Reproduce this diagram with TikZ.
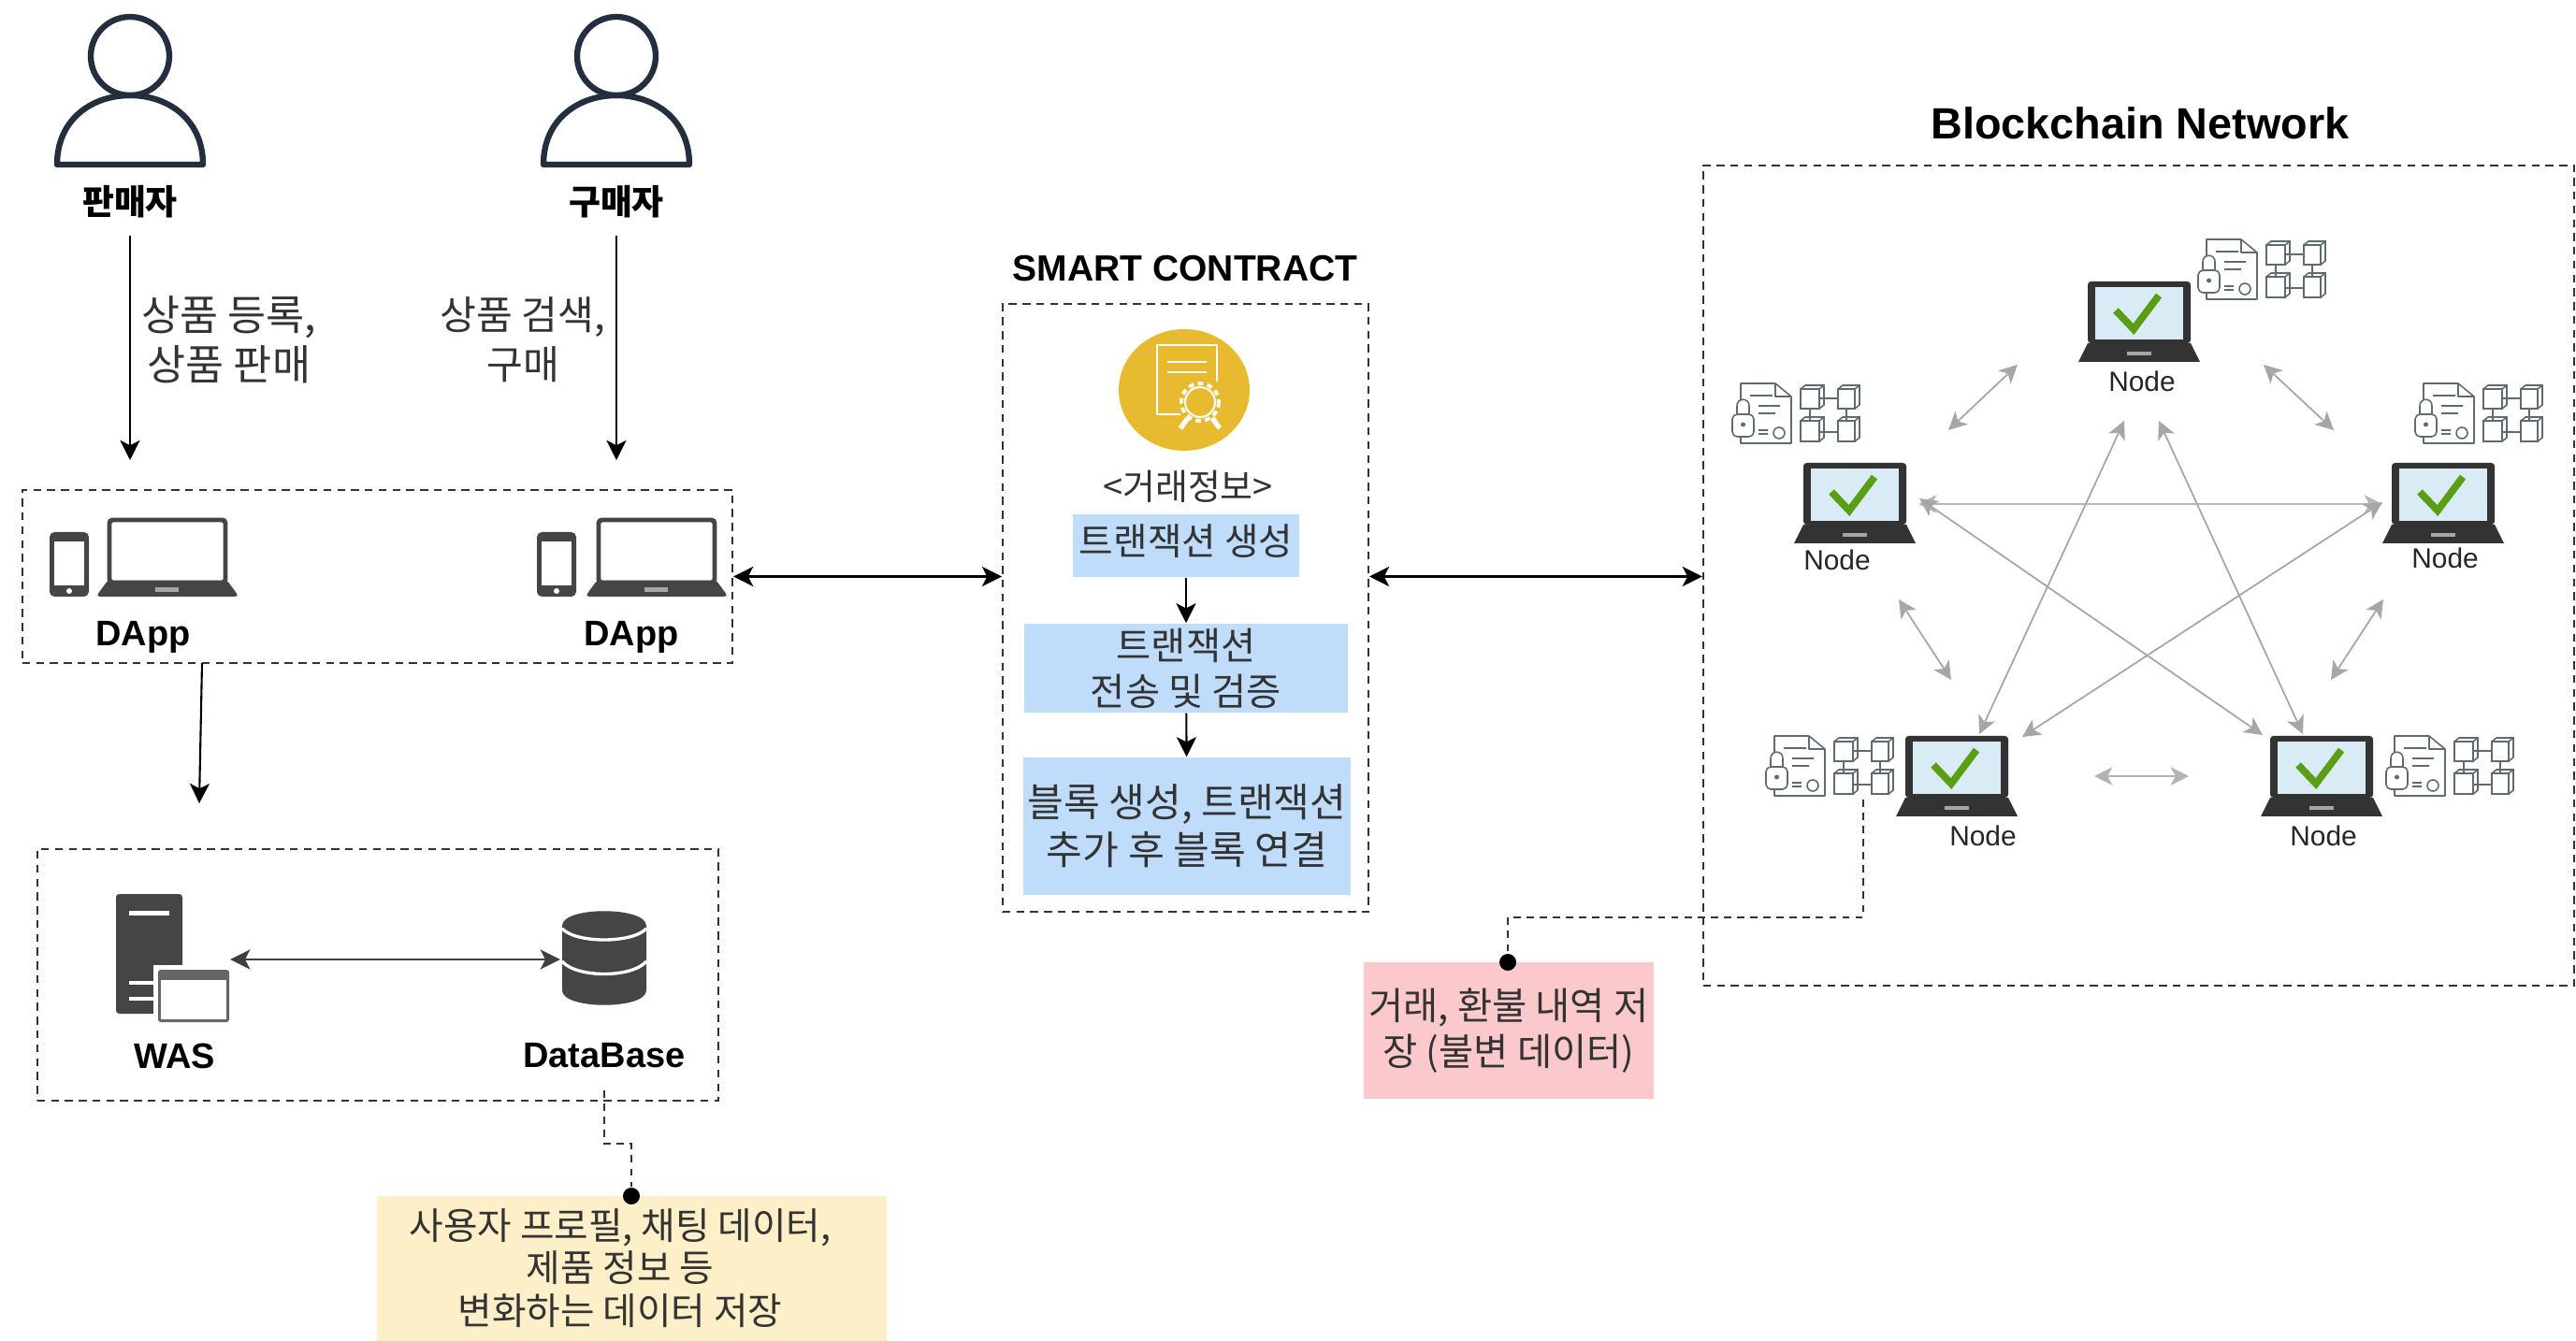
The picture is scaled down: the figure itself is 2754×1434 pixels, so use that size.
\documentclass[tikz,border=0pt]{standalone}
\usepackage{fontspec}
\setmainfont{Liberation Sans}
\newfontfamily\krfont{Noto Sans CJK KR}
\usetikzlibrary{arrows.meta}
\definecolor{inkdark}{HTML}{232F3E}
\definecolor{icondark}{HTML}{454545}
\definecolor{pcdark}{HTML}{333333}
\definecolor{screenblue}{HTML}{D9ECF5}
\definecolor{checkgreen}{HTML}{5A9E14}
\definecolor{linegray}{HTML}{A6A6A6}
\definecolor{ledgergray}{HTML}{5E6B73}
\definecolor{coingold}{HTML}{E8BA2F}
\definecolor{stepblue}{HTML}{BFDDFB}
\definecolor{noteyellow}{HTML}{FDF0C8}
\definecolor{notered}{HTML}{FBC9CC}

\tikzset{
  usericon/.pic={
    \draw[inkdark, line width=1.8pt] (0,3) circle (42);
    \draw[inkdark, line width=1.8pt, line join=round] (-78,119) -- (78,119)
      .. controls (78,70) and (40,45) .. (0,45)
      .. controls (-40,45) and (-78,70) .. (-78,119) -- cycle;
  },
  phoneicon/.pic={
    \fill[icondark, rounded corners=1.5pt] (0,0) rectangle (42,69);
    \fill[white] (5,10) rectangle (37,57);
    \fill[white] (21,63) circle (3);
  },
  dappicon/.pic={
    \draw[icondark, line width=1.4pt, rounded corners=1pt] (0,0) rectangle (124,67);
    \fill[icondark, rounded corners=.5pt] (-2,65) -- (126,65) -- (137,80) -- (136,82) -- (-12,82) -- (-13,80) -- cycle;
    \fill[linegray] (49,72) rectangle (74,77);
  },
  dbicon/.pic={
    \fill[icondark] (-45,16) .. controls (-45,-5) and (45,-5) .. (45,16) -- (45,85)
      .. controls (45,106) and (-45,106) .. (-45,85) -- cycle;
    \draw[white, line width=.95pt] (-45,19) .. controls (-30,35) and (30,35) .. (45,19)
      (-45,54) .. controls (-30,72) and (30,72) .. (45,54);
  },
  laptopicon/.pic={
    \fill[pcdark, rounded corners=1pt] (-55,0) rectangle (55,66);
    \fill[pcdark] (-55,66) -- (55,66) -- (65,86) -- (-65,86) -- cycle;
    \fill[screenblue] (-47,6) rectangle (47,62);
    \fill[linegray] (-13,75) rectangle (13,79);
    \draw[checkgreen, line width=2.2pt] (-25,31) -- (-6,51) -- (21,15);
  },
  ledgericon/.pic={
    \draw[ledgergray, line width=.45pt, line join=round]
      (9,18) -- (9,0) -- (46,0) -- (63,14) -- (63,64) -- (9,64) -- (9,57)
      (46,0) -- (46,14) -- (63,14)
      (19,13) -- (43,13) (28,24) -- (51,24) (28,32) -- (46,32)
      (28,50) -- (38,50) (28,54) -- (38,54);
    \draw[ledgergray, line width=.45pt] (50,53) circle (6);
    \draw[ledgergray, line width=.45pt, rounded corners=1.5pt, fill=white] (0,33) rectangle (23,57);
    \draw[ledgergray, line width=.45pt] (5,33) -- (5,24) .. controls (5,15) and (18,15) .. (18,24) -- (18,33);
    \fill[ledgergray] (11.5,44) circle (2.5);
    \draw[ledgergray, line width=.45pt]
      (73,6) rectangle (93,27) (73,6) -- (78,2) -- (98,2) -- (98,23) -- (93,27) (93,6) -- (98,2)
      (113,6) rectangle (131,27) (113,6) -- (118,2) -- (136,2) -- (136,23) -- (131,27) (131,6) -- (136,2)
      (73,40) rectangle (93,62) (73,40) -- (78,36) -- (98,36) -- (98,58) -- (93,62) (93,40) -- (98,36)
      (113,40) rectangle (131,62) (113,40) -- (118,36) -- (136,36) -- (136,58) -- (131,62) (131,40) -- (136,36)
      (93,16) -- (113,16) (93,52) -- (113,52) (83,27) -- (83,40) (122,27) -- (122,40);
  }
}

\begin{document}
\begin{tikzpicture}[> = {Stealth[length=6pt, width=6pt, inset=1.5pt]}, x = 0.01cm, y = -0.01cm]
\tikzstyle{every node}=[inner sep = 0pt]
\tikzstyle{boldtext}=[font = \fontsize{10.8pt}{13pt}\selectfont\bfseries]
\tikzstyle{kortext}=[font = \fontsize{11.5pt}{14pt}\selectfont\krfont, align = center, text = black!80]
\tikzstyle{korbold}=[font = \fontsize{10.5pt}{13pt}\selectfont\krfont\bfseries]
\tikzstyle{nodetext}=[font = \fontsize{8.5pt}{10pt}\selectfont, text = black!85]
\tikzstyle{groupbox}=[draw = black!80, line width = .5pt, dash pattern = on 2.4pt off 1.8pt]
\tikzstyle{fillbox}=[rectangle, minimum width = 1cm]
\tikzstyle{dotmark}=[circle, fill = black, minimum size = .18cm]
\tikzstyle{mainedge}=[black, line width = .6pt]
\tikzstyle{graylink}=[linegray, line width = .5pt, > = {Stealth[length=5.5pt, width=5.5pt, inset=1.5pt]}]
\tikzstyle{notelink}=[black!80, line width = .5pt, dash pattern = on 2.2pt off 1.8pt]

\useasboundingbox (0,0) rectangle (2754,1434);
\fill[white] (0,0) rectangle (2754,1434);

% users
\pic at (139,57) {usericon};
\pic at (659,57) {usericon};
\node[korbold] (Seller) at (139,216) {판매자};
\node[korbold] (Buyer) at (659,216) {구매자};
\coordinate (SellerIn) at (139,492);
\coordinate (BuyerIn) at (659,492);
\node[kortext, font = \fontsize{12.7pt}{15pt}\selectfont\krfont] (SellerText) at (245,363) {상품 등록,\\상품 판매};
\node[kortext, font = \fontsize{12pt}{15pt}\selectfont\krfont] (BuyerText) at (559,363) {상품 검색,\\구매};

% dapp group
\node[groupbox, minimum width = 7.59cm, minimum height = 1.85cm] (DApps) at (403.5,616.5) {};
\pic at (53,569) {phoneicon};
\pic at (117,556) {dappicon};
\pic at (574,569) {phoneicon};
\pic at (640,556) {dappicon};
\node[boldtext] (DAppA) at (153,681) {DApp};
\node[boldtext] (DAppB) at (675,681) {DApp};
\coordinate (DAppOut) at (216,709);
\coordinate (ServerIn) at (213,859);

% server group
\node[groupbox, minimum width = 7.28cm, minimum height = 2.69cm] (Servers) at (404,1042.5) {};
\fill[icondark, rounded corners=1pt] (124,956) rectangle (195,1084);
\fill[white] (138,974) rectangle (181,979);
\fill[white] (138,1049) rectangle (169,1053);
\fill[white] (138,1066) rectangle (169,1070);
\draw[white, line width=1.2pt, fill=white] (166,1034) rectangle (248,1096);
\fill[gray!80!black, rounded corners=.8pt] (169,1037) rectangle (245,1093);
\fill[white] (172,1048) rectangle (242,1090);
\node[minimum size = .01cm] (ServerIcon) at (245,1026) {};
\pic at (646,974) {dbicon};
\node[minimum size = .01cm] (DBIcon) at (600,1026) {};
\node[boldtext] (WAS) at (187,1129) {WAS};
\node[boldtext] (DB) at (646,1129) {DataBase};

% db note
\coordinate (DBOut) at (646,1166);
\coordinate (DBBend) at (646,1223);
\node[fillbox, fill = noteyellow, minimum width = 5.45cm, minimum height = 1.55cm] (DBNote) at (675.5,1356.5) {};
\node[kortext, font = \fontsize{11.3pt}{13pt}\selectfont\krfont] (DBNoteText) at (663,1356) {사용자 프로필, 채팅 데이터,\\제품 정보 등\\변화하는 데이터 저장};
\node[dotmark] (DBDot) at (675,1279) {};

% smart contract
\node[boldtext, font = \fontsize{11.1pt}{13pt}\selectfont\bfseries] (SCTitle) at (1267,287) {SMART CONTRACT};
\node[groupbox, minimum width = 3.91cm, minimum height = 6.5cm] (Contract) at (1267.5,650) {};
\fill[coingold] (1266,417) ellipse (70 and 65);
\draw[white, line width=.6pt, line join=round] (1301,408) -- (1301,369) -- (1237,369) -- (1237,443) -- (1262,443);
\draw[white, line width=.7pt] (1248,387) -- (1290,387) (1248,398) -- (1290,398);
\draw[white, line width=.6pt] (1283,430) circle (16);
\draw[white, line width=1.1pt, dash pattern=on 1.6pt off 1.3pt] (1283,430) circle (20);
\draw[white, line width=1.5pt] (1270,447) -- (1262,458) (1296,447) -- (1304,458);
\node[kortext, font = \fontsize{10.8pt}{14pt}\selectfont\krfont] (TxInfo) at (1270,520) {<거래정보>};
\node[fillbox, fill = stepblue, minimum width = 2.42cm, minimum height = .67cm] (StepA) at (1268,583.5) {};
\node[kortext, font = \fontsize{11.3pt}{14pt}\selectfont\krfont] (StepAText) at (1268,579) {트랜잭션 생성};
\node[fillbox, fill = stepblue, kortext, minimum width = 3.46cm, minimum height = .95cm] (StepB) at (1268,714.5) {트랜잭션\\전송 및 검증};
\node[fillbox, fill = stepblue, kortext, font = \fontsize{12pt}{14.4pt}\selectfont\krfont, minimum width = 3.5cm, minimum height = 1.47cm] (StepC) at (1269,883.5) {블록 생성, 트랜잭션\\추가 후 블록 연결};

% chain note
\coordinate (ChainOut) at (1992,855);
\coordinate (ChainBend) at (1992,981);
\node[fillbox, fill = notered, kortext, minimum width = 3.1cm, minimum height = 1.46cm] (ChainNote) at (1613,1102) {거래, 환불 내역 저\\장 (불변 데이터)};
\node[dotmark] (ChainDot) at (1612,1029) {};

% blockchain network
\node[boldtext, font = \fontsize{13.3pt}{16pt}\selectfont\bfseries] (ChainTitle) at (2288,132) {Blockchain Network};
\node[groupbox, minimum width = 9.31cm, minimum height = 8.77cm] (Chain) at (2286.5,615.5) {};
\pic at (2287,301) {laptopicon};
\pic at (1983,495) {laptopicon};
\pic at (2612,495) {laptopicon};
\pic at (2092,787) {laptopicon};
\pic at (2482,787) {laptopicon};
\pic at (2350,256) {ledgericon};
\pic at (1852,410) {ledgericon};
\pic at (2582,410) {ledgericon};
\pic at (1888,787) {ledgericon};
\pic at (2551,787) {ledgericon};
\node[nodetext] (NodeTop) at (2290,408) {Node};
\node[nodetext] (NodeLeft) at (1964,599) {Node};
\node[nodetext] (NodeRight) at (2614,597) {Node};
\node[nodetext] (NodeLow) at (2120,894) {Node};
\node[nodetext] (NodeHigh) at (2484,894) {Node};

% free ends of the gray links
\coordinate (A1) at (2157,390);  \coordinate (A2) at (2083,460);
\coordinate (B1) at (2420,390);  \coordinate (B2) at (2495,460);
\coordinate (C1) at (2030,641);  \coordinate (C2) at (2086,727);
\coordinate (D1) at (2548,641);  \coordinate (D2) at (2492,727);
\coordinate (E1) at (2239,830);  \coordinate (E2) at (2340,830);
\coordinate (F1) at (2051,539);  \coordinate (F2) at (2547,539);
\coordinate (G1) at (2052,533);  \coordinate (G2) at (2419,786);
\coordinate (H1) at (2547,537);  \coordinate (H2) at (2162,788);
\coordinate (I1) at (2271,450);  \coordinate (I2) at (2116,785);
\coordinate (J1) at (2308,450);  \coordinate (J2) at (2462,785);

\path[->, mainedge] (Seller) edge [shorten < = 5pt] (SellerIn);
\path[->, mainedge] (Buyer) edge [shorten < = 5pt] (BuyerIn);
\path[->, mainedge] (DAppOut) edge (ServerIn);
\path[<->, mainedge] (DApps.east) edge (DApps.east -| Contract.west);
\path[<->, mainedge] (DApps.east -| Contract.east) edge (DApps.east -| Chain.west);
\path[->, mainedge] (StepA) edge (StepB);
\path[->, mainedge] (StepB) edge (StepC);
\path[<->, mainedge, line width = .8pt, black!75] (ServerIcon) edge (DBIcon);

\path[<->, graylink] (A1) edge (A2);
\path[<->, graylink] (B1) edge (B2);
\path[<->, graylink] (C1) edge (C2);
\path[<->, graylink] (D1) edge (D2);
\path[<->, graylink, line width = .8pt, linegray!85] (E1) edge (E2);
\path[<->, graylink, line width = .8pt, linegray!80] (F1) edge (F2);
\path[<->, graylink] (G1) edge (G2);
\path[<->, graylink] (H1) edge (H2);
\path[<->, graylink] (I1) edge (I2);
\path[<->, graylink] (J1) edge (J2);

\draw[notelink] (DBOut) -- (DBBend) -| (DBDot);
\draw[notelink] (ChainOut) -- (ChainBend) -| (ChainDot);
\end{tikzpicture}
\end{document}
